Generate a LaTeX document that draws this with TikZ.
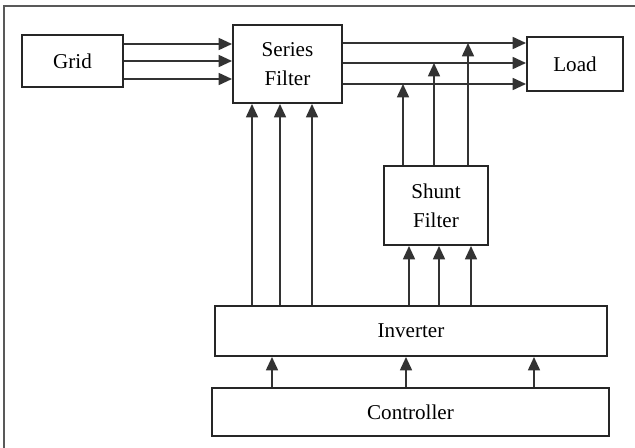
\documentclass[tikz,border=0pt]{standalone}
\usepackage{fontspec}
\setmainfont{Liberation Serif}
\usetikzlibrary{arrows.meta}

\begin{document}
\begin{tikzpicture}[x=0.03cm, y=-0.03cm,
    blok/.style={draw=black!85, line width=1.7pt, fill=white, align=center,
                 font=\fontsize{18}{25}\selectfont, inner sep=0pt},
    freccia/.style={draw=black!80, line width=1.4pt,
                 -{Triangle[length=0.4cm, width=0.36cm]}},
    linea/.style={draw=black!80, line width=1.4pt}]

    % Riquadro esterno
    \useasboundingbox (0,0) rectangle (635,448);
    \draw[black!65, line width=1.2pt] (4,448) -- (4,6) -- (635,6);

    % Blocchi principali
    \node[blok, minimum width=3.03cm, minimum height=1.56cm] (grid) at (72.5,61) {Grid};
    \node[blok, minimum width=3.27cm, minimum height=2.34cm] (series) at (287.5,64) {Series\\Filter};
    \node[blok, minimum width=2.88cm, minimum height=1.62cm] (load) at (575,64) {Load};
    \node[blok, minimum width=3.12cm, minimum height=2.37cm] (shunt) at (436,205.5) {Shunt\\Filter};
    \node[blok, minimum width=11.76cm, minimum height=1.5cm] (inverter) at (411,331) {Inverter};
    \node[blok, minimum width=11.91cm, minimum height=1.44cm] (controller) at (410.5,412) {Controller};

    % Grid verso il filtro serie
    \draw[freccia] (grid.east |- 0,44) -- (series.west |- 0,44);
    \draw[freccia] (grid.east |- 0,61) -- (series.west |- 0,61);
    \draw[freccia] (grid.east |- 0,79) -- (series.west |- 0,79);

    % Filtro serie verso il carico
    \draw[freccia] (series.east |- 0,43) -- (load.west |- 0,43);
    \draw[freccia] (series.east |- 0,63) -- (load.west |- 0,63);
    \draw[freccia] (series.east |- 0,84) -- (load.west |- 0,84);

    % Punti di iniezione del filtro shunt
    \coordinate (j1) at (403,84);
    \coordinate (j2) at (434,63);
    \coordinate (j3) at (468,43);
    \draw[freccia] (shunt.north -| j1) -- (j1);
    \draw[freccia] (shunt.north -| j2) -- (j2);
    \draw[freccia] (shunt.north -| j3) -- (j3);

    % Inverter verso il filtro serie
    \draw[freccia] (inverter.north -| 252,0) -- (series.south -| 252,0);
    \draw[freccia] (inverter.north -| 280,0) -- (series.south -| 280,0);
    \draw[freccia] (inverter.north -| 312,0) -- (series.south -| 312,0);

    % Inverter verso il filtro shunt
    \draw[freccia] (inverter.north -| 409,0) -- (shunt.south -| 409,0);
    \draw[freccia] (inverter.north -| 439,0) -- (shunt.south -| 439,0);
    \draw[freccia] (inverter.north -| 471,0) -- (shunt.south -| 471,0);

    % Controllore verso l'inverter
    \draw[freccia] (controller.north -| 272,0) -- (inverter.south -| 272,0);
    \draw[freccia] (controller.north -| 406,0) -- (inverter.south -| 406,0);
    \draw[freccia] (controller.north -| 534,0) -- (inverter.south -| 534,0);

\end{tikzpicture}
\end{document}
